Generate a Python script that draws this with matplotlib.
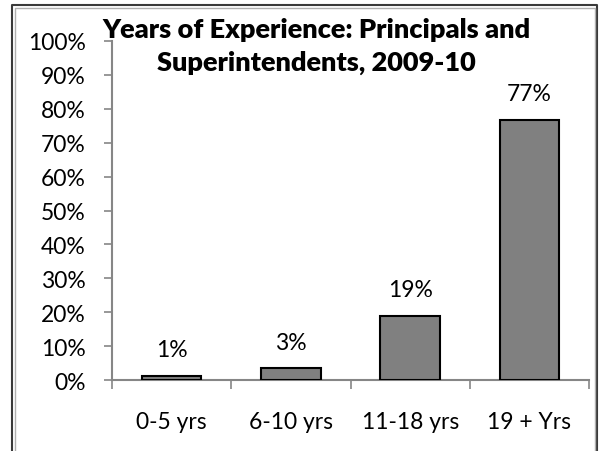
import matplotlib
matplotlib.use("Agg")
import matplotlib.pyplot as plt
from matplotlib.lines import Line2D
import numpy as np

categories = ["0-5 yrs", "6-10 yrs", "11-18 yrs", "19 + Yrs"]
values = [1.3, 3.4, 19.0, 76.8]
value_labels = ["1%", "3%", "19%", "77%"]
yticks = [0, 10, 20, 30, 40, 50, 60, 70, 80, 90, 100]
title_lines = ["Years of Experience: Principals and", "Superintendents, 2009-10"]

plt.rcParams['font.family'] = ['Lato', 'DejaVu Sans']

W, H = 600, 452
fig = plt.figure(figsize=(W/100, H/100), dpi=100)
ax = fig.add_axes([112/W, 1-381/H, (589-112)/W, (381-42)/H])

x = np.arange(len(categories))
ax.bar(x, values, width=0.5, color="#808080", edgecolor="black", linewidth=1.5, zorder=3)
ax.set_xlim(-0.5, len(categories)-0.5)
ax.set_ylim(0, 100)

for xi, v, lab in zip(x, values, value_labels):
    ax.annotate(lab, (xi, v), xytext=(0, 19), textcoords="offset points",
                ha="center", va="center", fontsize=16.5, color="black")

ax.set_yticks(yticks)
ax.set_yticklabels([f"{t}%" for t in yticks], fontsize=16.5)
ax.tick_params(axis="y", length=6, width=1.2, color="#868686", pad=13)

ax.set_xticks(np.arange(len(categories)+1) - 0.5)
ax.set_xticklabels([])
ax.tick_params(axis="x", which="major", length=6.5, width=1.2, color="#868686")
ax.set_xticks(x, minor=True)
ax.set_xticklabels(categories, minor=True, fontsize=16.5)
ax.tick_params(axis="x", which="minor", length=0, pad=22)

for s in ["top", "right"]:
    ax.spines[s].set_visible(False)
for s in ["left", "bottom"]:
    ax.spines[s].set_color("#868686")
    ax.spines[s].set_linewidth(1.5)

fig.text(316/W, 1-30/H, title_lines[0], ha="center", va="center", fontsize=19.5, fontweight="heavy")
fig.text(316/W, 1-63/H, title_lines[1], ha="center", va="center", fontsize=19.5, fontweight="heavy")

# figure border
for (xs, ys, c, lw) in [
    ([12/W, 12/W, 597/W, 597/W], [-0.1, 1-6/H, 1-6/H, -0.1], "#3a3a3a", 1.5),
    ([14.5/W, 14.5/W, 595/W, 595/W], [-0.1, 1-8.5/H, 1-8.5/H, -0.1], "#b0b0b0", 1.0),
]:
    fig.add_artist(Line2D(xs, ys, color=c, lw=lw, transform=fig.transFigure))

fig.savefig("out.png", dpi=100)
